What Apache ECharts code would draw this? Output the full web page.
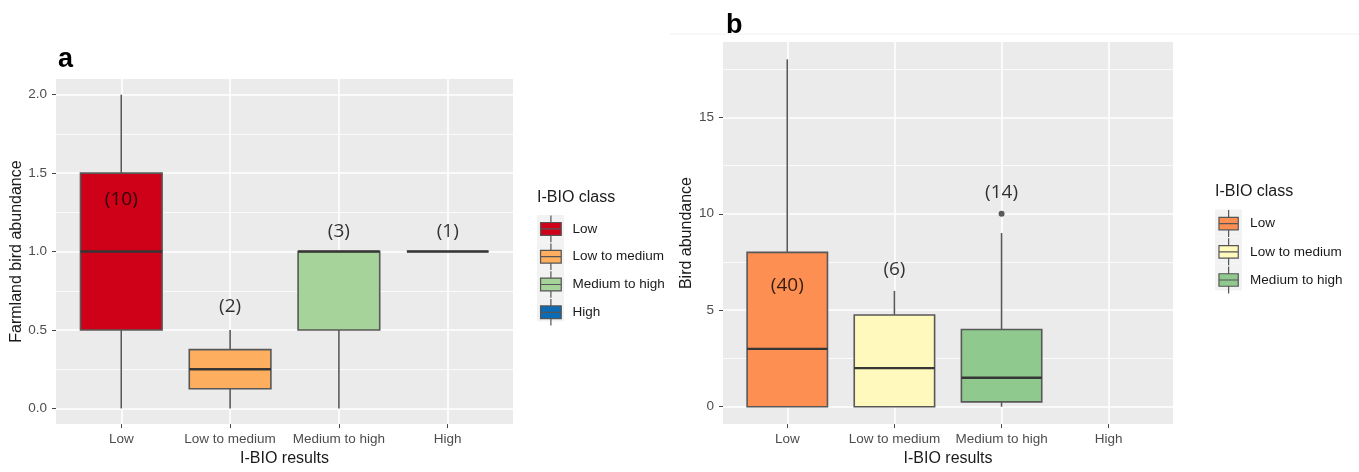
<!DOCTYPE html>
<html>
<head>
<meta charset="utf-8">
<script src="https://cdn.jsdelivr.net/npm/echarts@6/dist/echarts.min.js"></script>
<style>
html,body{margin:0;padding:0;background:#fff;}
#chart{width:1359px;height:472px;}
</style>
</head>
<body>
<div id="chart"></div>
<script>
// ---------- data ----------
const categories = ['Low', 'Low to medium', 'Medium to high', 'High'];

// Panel a: Farmland bird abundance
const aMin    = [0,   0,     0,   1];
const aQ1     = [0.5, 0.125, 0.5, 1];
const aMedian = [1,   0.25,  1,   1];
const aQ3     = [1.5, 0.375, 1,   1];
const aMax    = [2,   0.5,   1,   1];
const aCounts = ['(10)', '(2)', '(3)', '(1)'];
const aCountY = [1.33, 0.65, 1.13, 1.13];
const aYTicks = [0, 0.5, 1, 1.5, 2];
const aYMinor = [0.25, 0.75, 1.25, 1.75];

// Panel b: Bird abundance
const bClasses = ['Low', 'Low to medium', 'Medium to high'];
const bMin    = [0, 0,    0];
const bQ1     = [0, 0,    0.25];
const bMedian = [3, 2,    1.5];
const bQ3     = [8, 4.75, 4];
const bMax    = [18, 6,   9];
const bOutlierClass = ['Medium to high'];
const bOutlierValue = [10];
const bCounts = ['(40)', '(6)', '(14)'];
const bCountY = [6.3, 7.1, 11.1];
const bYTicks = [0, 5, 10, 15];
const bYMinor = [2.5, 7.5, 12.5, 17.5];

// ---------- styles ----------
const aColors = ['#CF0118', '#FDAE5F', '#A6D39A', '#0C6BB5'];
const bColors = ['#FD8F52', '#FFF9BE', '#8FC98D'];
const FONT = "'Liberation Sans', Arial, sans-serif";
const ANNOT_FONT = "'Open Sans', 'Noto Sans', sans-serif";
const tickIdx = categories.map((c, i) => i);

function renderBox(params, api) {
  const x = api.value(0);
  const pMin = api.coord([x, api.value(1)]);
  const pQ1 = api.coord([x, api.value(2)]);
  const pMed = api.coord([x, api.value(3)]);
  const pQ3 = api.coord([x, api.value(4)]);
  const pMax = api.coord([x, api.value(5)]);
  const w = api.size([0.75, 0])[0];
  const cx = pMed[0];
  const fill = api.visual('color');
  return {
    type: 'group',
    children: [
      {type: 'line', shape: {x1: cx, y1: pQ3[1], x2: cx, y2: pMax[1]}, style: {stroke: '#585858', lineWidth: 1.6}},
      {type: 'line', shape: {x1: cx, y1: pMin[1], x2: cx, y2: pQ1[1]}, style: {stroke: '#585858', lineWidth: 1.6}},
      {type: 'rect', shape: {x: cx - w / 2, y: pQ3[1], width: w, height: pQ1[1] - pQ3[1]},
       style: {fill: fill, stroke: '#585858', lineWidth: 1.6}},
      {type: 'line', shape: {x1: cx - w / 2, y1: pMed[1], x2: cx + w / 2, y2: pMed[1]},
       style: {stroke: '#363636', lineWidth: 2.4}}
    ]
  };
}

function xAxisFor(gridIndex) {
  return {
    type: 'value', gridIndex: gridIndex, min: -0.6, max: 3.6,
    name: 'I-BIO results', nameLocation: 'middle', nameGap: 26,
    nameTextStyle: {fontSize: 16, color: '#1a1a1a', fontFamily: FONT},
    axisLine: {show: false, onZero: false},
    axisTick: {show: true, length: 4, customValues: tickIdx, lineStyle: {color: '#444', width: 1}},
    axisLabel: {customValues: tickIdx, margin: 8, fontSize: 13.5, color: '#4d4d4d', fontFamily: FONT,
                formatter: v => categories[Math.round(v)]},
    splitLine: {show: true, lineStyle: {color: '#ffffff', width: 1.6}}
  };
}
function yAxisFor(gridIndex, min, max, ticks, name, gap, fmt) {
  return {
    type: 'value', gridIndex: gridIndex, min: min, max: max, position: 'left',
    name: name, nameLocation: 'middle', nameGap: gap,
    nameTextStyle: {fontSize: 16, color: '#1a1a1a', fontFamily: FONT},
    axisLine: {show: false, onZero: false},
    axisTick: {show: true, length: 4, customValues: ticks, lineStyle: {color: '#444', width: 1}},
    axisLabel: {customValues: ticks, margin: 9, fontSize: 13.5, color: '#4d4d4d', fontFamily: FONT, formatter: fmt},
    splitLine: {show: true, lineStyle: {color: '#ffffff', width: 1.6}}
  };
}
function minorAxisFor(gridIndex, min, max, ticks) {
  return {
    type: 'value', gridIndex: gridIndex, min: min, max: max, position: 'left',
    axisLine: {show: false, onZero: false},
    axisTick: {show: false, customValues: ticks},
    axisLabel: {show: false, customValues: ticks},
    splitLine: {show: true, lineStyle: {color: '#ffffff', width: 0.8}}
  };
}

const keyPathA = 'path://M-3,0M24,0M10.5,0V7M0,7H21V20H0ZM0,13.5H21M10.5,20V27';
const keyPathB = 'path://M-3.5,0M23.5,0M10,0V7.5M0,7.5H20V20.5H0ZM0,14H20M10,20.5V28';

const series = [];
categories.forEach((c, i) => {
  series.push({
    type: 'custom', name: c, xAxisIndex: 0, yAxisIndex: 0,
    renderItem: renderBox,
    itemStyle: {color: aColors[i]},
    encode: {x: 0, y: [1, 2, 3, 4, 5]},
    data: [[i, aMin[i], aQ1[i], aMedian[i], aQ3[i], aMax[i]]],
    z: 3, silent: true
  });
});
bClasses.forEach((c, i) => {
  series.push({
    type: 'custom', name: 'b-' + c, xAxisIndex: 1, yAxisIndex: 2,
    renderItem: renderBox,
    itemStyle: {color: bColors[i]},
    encode: {x: 0, y: [1, 2, 3, 4, 5]},
    data: [[categories.indexOf(c), bMin[i], bQ1[i], bMedian[i], bQ3[i], bMax[i]]],
    z: 3, silent: true
  });
});
series.push({
  type: 'scatter', name: 'outliers', xAxisIndex: 1, yAxisIndex: 2,
  symbolSize: 6, itemStyle: {color: '#333'}, z: 4, silent: true,
  data: bOutlierClass.map((c, i) => [categories.indexOf(c), bOutlierValue[i]])
});
const countLabel = {show: true, position: 'inside', formatter: p => p.value[2],
                    fontSize: 19, color: '#000', fontFamily: ANNOT_FONT};
series.push({
  type: 'scatter', name: 'countsA', xAxisIndex: 0, yAxisIndex: 0, symbolSize: 1,
  itemStyle: {color: 'rgba(0,0,0,0)'}, label: countLabel, z: 5, silent: true,
  data: aCounts.map((t, i) => [i, aCountY[i], t])
});
series.push({
  type: 'scatter', name: 'countsB', xAxisIndex: 1, yAxisIndex: 2, symbolSize: 1,
  itemStyle: {color: 'rgba(0,0,0,0)'}, label: countLabel, z: 5, silent: true,
  data: bCounts.map((t, i) => [categories.indexOf(bClasses[i]), bCountY[i], t])
});

const legendText = {fontSize: 13.5, color: '#1a1a1a', fontFamily: FONT, padding: [0, 0, 0, 3]};
const option = {
  animation: false,
  backgroundColor: '#ffffff',
  graphic: [{type: 'line', shape: {x1: 670, y1: 34, x2: 1359, y2: 34}, style: {stroke: '#f1f1f1', lineWidth: 1}}],
  title: [
    {text: 'a', left: 58, top: 46, padding: 0, textStyle: {fontSize: 27, fontWeight: 'bold', color: '#000', fontFamily: FONT}},
    {text: 'b', left: 726, top: 12, padding: 0, textStyle: {fontSize: 27, fontWeight: 'bold', color: '#000', fontFamily: FONT}},
    {text: 'I-BIO class', left: 537, top: 190, padding: 0, textStyle: {fontSize: 16, fontWeight: 'normal', color: '#1a1a1a', fontFamily: FONT}},
    {text: 'I-BIO class', left: 1215, top: 184, padding: 0, textStyle: {fontSize: 16, fontWeight: 'normal', color: '#1a1a1a', fontFamily: FONT}}
  ],
  grid: [
    {left: 56, top: 79, width: 457, height: 350, show: true, backgroundColor: '#ebebeb', borderWidth: 0},
    {left: 723, top: 42, width: 450, height: 388, show: true, backgroundColor: '#ebebeb', borderWidth: 0}
  ],
  xAxis: [xAxisFor(0), xAxisFor(1)],
  yAxis: [
    yAxisFor(0, -0.1, 2.1, aYTicks, 'Farmland bird abundance', 28, v => v.toFixed(1)),
    minorAxisFor(0, -0.1, 2.1, aYMinor),
    yAxisFor(1, -0.9, 18.9, bYTicks, 'Bird abundance', 25, v => String(v)),
    minorAxisFor(1, -0.9, 18.9, bYMinor)
  ],
  legend: [
    {orient: 'vertical', left: 537, top: 215, padding: 0, itemGap: 0, itemWidth: 27, itemHeight: 26.6,
     selectedMode: false, icon: 'rect', z: 1, formatter: () => '',
     itemStyle: {color: '#f2f2f2', borderWidth: 0, borderColor: 'transparent'},
     data: categories.slice()},
    {orient: 'vertical', left: 537, top: 215, padding: 0, itemGap: 0, itemWidth: 27, itemHeight: 26.6,
     selectedMode: false, z: 2, textStyle: legendText,
     itemStyle: {borderColor: '#555', borderWidth: 1.2},
     data: categories.map(c => ({name: c, icon: keyPathA}))},
    {orient: 'vertical', left: 1215, top: 209.5, padding: 0, itemGap: 0, itemWidth: 27, itemHeight: 27,
     selectedMode: false, icon: 'rect', z: 1, formatter: () => '',
     itemStyle: {color: '#f2f2f2', borderWidth: 0, borderColor: 'transparent'},
     data: bClasses.map(c => 'b-' + c)},
    {orient: 'vertical', left: 1215, top: 209.5, padding: 0, itemGap: 0, itemWidth: 27, itemHeight: 27,
     selectedMode: false, z: 2, textStyle: legendText, formatter: n => n.slice(2),
     itemStyle: {borderColor: '#555', borderWidth: 1.2},
     data: bClasses.map(c => ({name: 'b-' + c, icon: keyPathB}))}
  ],
  series: series
};
const chart = echarts.init(document.getElementById('chart'), null, {renderer: 'canvas'});
chart.setOption(option);
</script>
</body>
</html>
